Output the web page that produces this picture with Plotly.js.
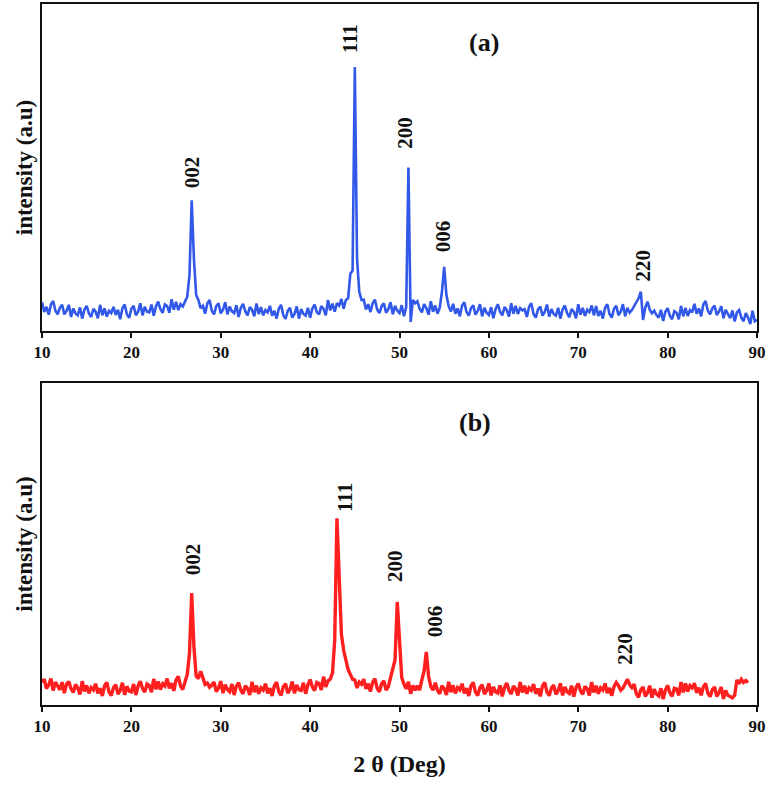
<!DOCTYPE html>
<html>
<head>
<meta charset="utf-8">
<script src="https://cdn.plot.ly/plotly-3.0.1.min.js"></script>
<style>html,body{margin:0;padding:0;background:#fff;}#chart{width:767px;height:786px;}</style>
</head>
<body>
<div id="chart"></div>
<script>
// 2θ grid: starts at 10°, step 0.25°
var startAngle = 10;
var stepAngle = 0.25;

// (a) intensity, 10° .. 90°
var intensityA = [
8.8,5.8,7.4,5.0, 8.1,9.2,6.2,5.1, 7.1,8.0,5.1,6.2, 8.0,4.3,6.9,5.4, 4.8,7.2,3.8,6.6,
7.7,5.4,4.3,6.8, 5.9,3.9,8.0,4.8, 6.9,4.4,6.2,5.5, 7.4,4.9,6.5,3.6, 7.0,8.1,5.1,4.0,
6.8,7.7,4.8,5.9, 8.5,4.8,7.4,5.9, 5.7,8.1,4.7,7.5, 9.0,6.7,5.6,8.1, 7.6,5.6,9.7,6.5,
8.9,6.4,8.2,7.5, 9.0,10.5,17,40, 22,11,9.5,7.0, 7.7,5.3,8.4,9.5, 6.2,5.1,7.6,8.5,
5.4,6.5,8.8,5.1, 7.5,6.0,5.5,7.9, 4.3,7.1,8.3,6.0, 4.8,7.3,6.5,4.5, 8.4,5.2,7.3,4.8,
6.4,5.7,7.7,4.7, 6.2,3.8,6.9,8.0, 4.8,3.7,6.2,7.1, 4.1,5.2,7.5,3.8, 6.7,5.2,4.7,7.1,
4.1,6.9,8.1,5.8, 5.1,7.6,6.8,4.8, 9.5,6.3,8.4,5.9, 8.5,7.8,9.8,6.8, 9.5,10.0,17.5,18.5,
80.7,22,12,9.5, 9.6,6.6,8.2,5.8, 8.5,9.6,6.6,5.5, 7.6,8.5,5.6,6.7, 8.8,5.1,7.7,6.2,
5.5,7.9,4.5,7.3, 50,2.8,9.5,8.5, 9.1,6.8,5.7,8.2, 7.0,5.0,9.1,5.9, 7.8,5.3,7.1,12,
19.6,11,7.6,6.0, 8.3,5.3,6.9,4.5, 7.7,8.8,5.8,4.7, 7.0,7.9,5.0,6.1, 8.2,4.5,7.1,5.6,
4.9,7.3,3.9,6.7, 8.2,5.9,4.8,7.3, 6.4,4.4,8.5,5.3, 7.7,5.2,7.0,6.3, 6.7,4.3,7.4,8.5,
5.2,4.1,6.6,7.5, 4.7,5.8,8.1,4.4, 6.7,5.2,4.7,7.1, 3.8,6.6,7.8,5.5, 4.2,6.7,5.9,3.9,
8.2,5.0,7.1,4.6, 6.5,5.8,7.8,4.8, 7.6,4.6,6.2,3.8, 7.1,8.2,5.2,4.1, 6.8,7.7,4.8,5.9,
8.2,4.5,7.1,5.6, 6.4,7.6,8.5,10.0, 12.0,3.4,7.2,9.0, 6.5,5.4,6.2,4.9, 4.1,6.5,3.1,5.9,
7.0,4.7,3.6,6.1, 5.6,3.6,7.7,4.5, 7.1,4.6,6.4,5.7, 8.3,5.3,6.9,4.5, 8.1,9.2,6.2,5.1,
6.9,7.8,4.9,6.0, 7.6,3.9,6.5,5.0, 3.9,6.3,2.9,5.7, 6.4,4.1,3.0,5.5, 4.1,2.1,6.2,3.0,
3.4
];

// (b) intensity, 10° .. 89°
var intensityB = [
7.1,8.0,5.1,6.2, 8.2,4.5,7.1,5.6, 4.7,7.1,3.7,6.5, 7.3,5.0,3.9,6.4, 5.3,3.3,7.4,4.2,
6.1,3.6,5.4,4.7, 6.6,3.6,5.2,2.8, 5.9,7.0,4.0,2.9, 5.4,6.3,3.4,4.5, 6.9,3.2,5.8,4.3,
4.1,6.5,3.1,5.9, 7.4,5.1,4.0,6.5, 6.0,4.0,8.1,4.9, 7.3,4.8,6.6,5.9, 8.2,5.2,6.8,4.4,
7.8,8.9,5.9,4.8, 7.6,9.5,16,34.8, 18,9.0,8.2,10.5, 8.5,6.4,6.8,5.5, 6.2,7.1,4.2,5.3,
7.4,3.7,6.3,4.8, 4.1,6.5,3.1,5.9, 6.9,4.6,3.5,6.0, 5.1,3.1,7.2,4.0, 6.0,3.5,5.3,4.6,
6.6,3.6,5.2,2.8, 6.0,7.1,4.1,3.0, 5.7,6.6,3.7,4.8, 7.3,3.6,6.2,4.7, 4.5,6.9,3.5,6.3,
7.9,5.6,4.5,7.0, 6.7,4.7,8.8,5.6, 7.5,8.0,10,20, 58,40,22,17, 14,11,9.5,8.0,
7.8,5.3,7.1,6.4, 8.0,5.0,6.6,4.2, 7.1,8.2,5.2,4.1, 6.6,7.5,4.6,5.7, 8.5,11,14,32,
22,8.5,6.5,5.0, 7.2,3.5,6.1,4.6, 6.0,4.6,7.8,10.5, 16.5,9.0,5.8,4.6, 6.9,4.6,3.5,6.0,
5.1,3.1,7.2,4.0, 6.1,3.6,5.4,4.7, 6.6,3.6,5.2,2.8, 5.9,7.0,4.0,2.9, 5.4,6.3,3.4,4.5,
6.7,3.0,5.6,4.1, 3.7,6.1,2.7,5.5, 6.8,4.5,3.4,5.9, 5.0,3.0,7.1,3.9, 6.0,3.5,5.3,4.6,
6.5,3.5,5.1,2.7, 5.9,7.0,4.0,2.9, 5.3,6.2,3.3,4.4, 6.7,3.0,5.6,4.1, 3.6,6.0,2.6,5.4,
6.7,4.4,3.3,5.8, 5.0,3.0,7.1,3.9, 6.0,3.5,5.3,4.6, 6.7,3.7,5.3,2.9, 5.7,7.0,6.0,4.6,
5.2,6.4,8.0,6.3, 5.4,6.5,3.5,2.4, 4.7,5.6,2.7,3.8, 6.0,2.3,4.9,3.4, 2.8,5.2,1.8,4.6,
6.1,3.8,2.7,5.2, 5.0,3.0,7.1,3.9, 6.7,4.2,6.0,5.3, 6.8,3.8,5.4,3.0, 5.6,6.7,3.7,2.6,
4.7,5.6,2.7,3.8, 5.6,1.9,4.5,3.0, 2.6,2.2,3.0,7.8, 6.6,8.0,7.0,7.6,
7.0
];

// peak labels (Miller indices)
var peakLabels = ["002", "111", "200", "006", "220"];
var peakAngleA = [26.8, 44.5, 50.6, 54.9, 77.2];
var labelLevelA = [48.6, 89.3, 60.6, 29.1, 19.9];
var peakAngleB = [26.9, 43.9, 49.5, 54.0, 75.2];
var labelLevelB = [45.3, 64.6, 43.2, 26.1, 17.4];

var xTicks = [10, 20, 30, 40, 50, 60, 70, 80, 90];
var xTickText = ["10", "20", "30", "40", "50", "60", "70", "80", "90"];

var serif = "Liberation Serif, Times New Roman, serif";

var traces = [
  {type: "scatter", mode: "lines", x0: startAngle, dx: stepAngle, y: intensityA,
   xaxis: "x", yaxis: "y", line: {color: "#3158e8", width: 2.6}, hoverinfo: "skip"},
  {type: "scatter", mode: "lines", x0: startAngle, dx: stepAngle, y: intensityB,
   xaxis: "x2", yaxis: "y2", line: {color: "#ff1f1f", width: 3.4}, hoverinfo: "skip"}
];

var annotations = [];
function addLabels(xs, ys, xref, yref) {
  for (var i = 0; i < peakLabels.length; i++) {
    annotations.push({x: xs[i], y: ys[i], xref: xref, yref: yref, text: peakLabels[i],
      textangle: -90, showarrow: false, xanchor: "center", yanchor: "middle",
      font: {family: serif, size: 21, color: "#111", weight: "bold"}});
  }
}
addLabels(peakAngleA, labelLevelA, "x", "y");
addLabels(peakAngleB, labelLevelB, "x2", "y2");
annotations.push({x: 59.5, y: 88.1, xref: "x", yref: "y", text: "(a)", showarrow: false,
  font: {family: serif, size: 26, color: "#111", weight: "bold"}});
annotations.push({x: 58.4, y: 87.6, xref: "x2", yref: "y2", text: "(b)", showarrow: false,
  font: {family: serif, size: 26, color: "#111", weight: "bold"}});

function xAxis(anchor, title) {
  var a = {anchor: anchor, range: [10, 90], tickvals: xTicks, ticktext: xTickText,
    ticks: "outside", ticklen: 5, tickwidth: 2, tickcolor: "#111",
    showline: true, linewidth: 2, linecolor: "#111", mirror: true,
    showgrid: false, zeroline: false,
    tickfont: {family: serif, size: 17, color: "#111", weight: "bold"}};
  if (title) {
    a.title = {text: title, standoff: 20, font: {family: serif, size: 24, color: "#111", weight: "bold"}};
  }
  return a;
}
function yAxis(anchor, domain) {
  return {anchor: anchor, domain: domain, range: [0, 100], showticklabels: false, ticks: "",
    showline: true, linewidth: 2, linecolor: "#111", mirror: true,
    showgrid: false, zeroline: false,
    title: {text: "intensity (a.u)", standoff: 1, font: {family: serif, size: 23, color: "#111", weight: "bold"}}};
}

var layout = {
  width: 767, height: 786,
  margin: {l: 42, r: 10, t: 4, b: 81},
  paper_bgcolor: "#fff", plot_bgcolor: "#fff",
  showlegend: false,
  xaxis: xAxis("y"),
  yaxis: yAxis("x", [0.5335, 1]),
  xaxis2: xAxis("y2", "2 θ (Deg)"),
  yaxis2: yAxis("x2", [0, 0.4593]),
  annotations: annotations
};

Plotly.newPlot("chart", traces, layout, {staticPlot: true});
</script>
</body>
</html>
